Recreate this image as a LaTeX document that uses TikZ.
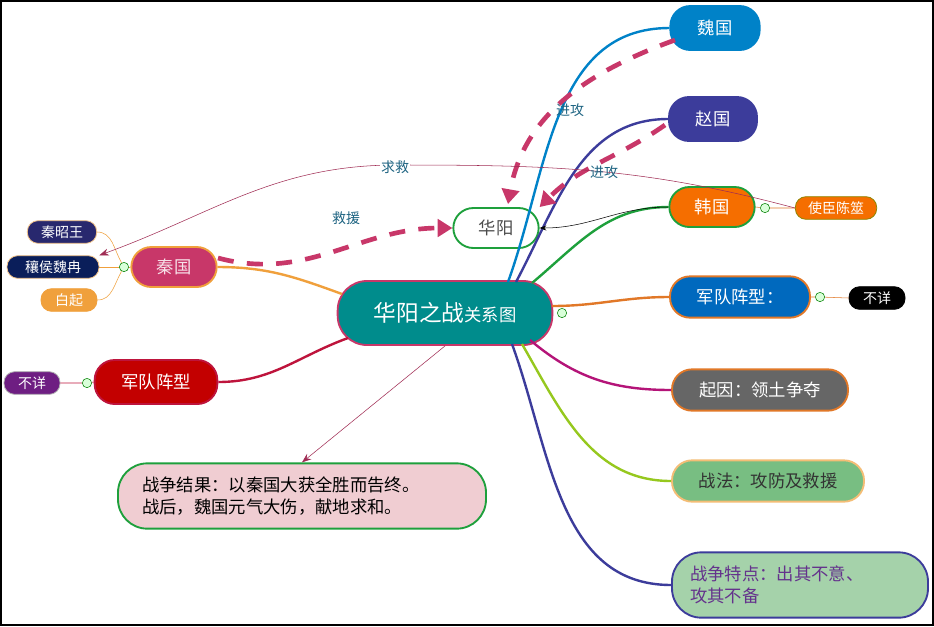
\documentclass[tikz,border=0pt]{standalone}
\usepackage{fontspec}
\setmainfont{Noto Sans CJK SC}
\usetikzlibrary{arrows.meta,positioning}
\definecolor{teal1}{RGB}{0,140,140}
\definecolor{rose}{RGB}{200,55,105}
\definecolor{weiblue}{RGB}{0,130,200}
\definecolor{zhaoblue}{RGB}{60,60,155}
\definecolor{hangreen}{RGB}{30,160,60}
\definecolor{hanorange}{RGB}{245,110,0}
\definecolor{armyblue}{RGB}{0,105,190}
\definecolor{brorange}{RGB}{225,120,40}
\definecolor{magen}{RGB}{180,20,120}
\definecolor{ygreen}{RGB}{150,200,30}
\definecolor{qinorange}{RGB}{240,160,60}
\definecolor{crimson1}{RGB}{190,20,60}
\definecolor{labelc}{RGB}{30,100,130}
\definecolor{nodered}{RGB}{195,0,0}
\tikzset{
  topic/.style={rounded corners=15pt,minimum height=#1,font=\fontsize{13}{16}\selectfont,align=left,line width=1.4pt,inner xsep=6pt,inner ysep=2pt},
  topic/.default=31pt,
  leaf/.style={rounded corners=8pt,minimum height=17pt,inner ysep=1pt,font=\fontsize{10.5}{12}\selectfont,text=white,line width=0.6pt,inner xsep=4pt},
  fold/.style={circle,draw=green!50!black,fill=green!15,inner sep=0pt,minimum size=7pt},
  branch/.style={line width=1.8pt},
  attack/.style={rose,line width=3.5pt,dash pattern=on 12pt off 10pt,-{Triangle[length=11pt,width=13pt]}},
  lbl/.style={text=labelc,font=\fontsize{10.5}{12}\selectfont}
}
\begin{document}
\begin{tikzpicture}[x=0.75pt,y=-0.75pt]
\useasboundingbox (0,0) rectangle (934,626);
\draw[black,line width=1.5pt,fill=white] (1,1) rectangle (933,625);
% main nodes
\node[topic=48pt,fill=teal1,draw=rose,text=white,minimum width=161pt,align=center,rounded corners=22pt] (C) at (445,313) {{\fontsize{17}{20}\selectfont 华阳之战}关系图};
\node[topic=30pt,fill=white,draw=hangreen,text=black!70,minimum width=64pt] (HY) at (496,228) {华阳};
\node[topic=33pt,fill=weiblue,draw=weiblue,text=white,minimum width=67pt] (Wei) at (715,28) {魏国};
\node[topic=33pt,fill=zhaoblue,draw=zhaoblue,text=white,minimum width=66pt] (Zhao) at (713,119) {赵国};
\node[topic=30pt,fill=hanorange,draw=hangreen,text=white,minimum width=64pt] (Han) at (712,207) {韩国};
\node[leaf,fill=hanorange,draw=olive,minimum width=61pt] (Chen) at (836,208) {使臣陈筮};
\node[topic,fill=armyblue,draw=brorange,text=white,minimum width=105pt] (ArmyR) at (740,297) {军队阵型：};
\node[leaf,fill=black,draw=black,minimum width=42pt] (UnkR) at (877,298) {不详};
\node[topic,fill=black!60,draw=brorange,text=white,minimum width=132pt] (Cause) at (760,390) {起因：领土争夺};
\node[topic,fill={rgb,255:red,120;green,190;blue,130},draw=qinorange!70,text=black!80,minimum width=144pt] (Tac) at (768,481) {战法：攻防及救援};
\node[topic=49pt,fill={rgb,255:red,165;green,210;blue,170},draw=zhaoblue,text={rgb,255:red,100;green,50;blue,140},minimum width=192pt,text width=165pt,rounded corners=22pt] (Feat) at (800,585) {战争特点：出其不意、\\攻其不备};
\node[topic=49pt,fill={rgb,255:red,240;green,205;blue,210},draw=hangreen,text=black,minimum width=276pt,text width=240pt,rounded corners=22pt] (Res) at (302,496) {战争结果：以秦国大获全胜而告终。\\战后，魏国元气大伤，献地求和。};
\node[topic=30pt,fill=rose,draw=qinorange,text=white!85!rose,minimum width=64pt] (Qin) at (174,267) {秦国};
\node[leaf,fill={rgb,255:red,40;green,40;blue,110},draw=qinorange!60,minimum width=52pt] (Zhao2) at (62,232) {秦昭王};
\node[leaf,fill={rgb,255:red,10;green,30;blue,90},draw=qinorange!60,minimum width=69pt] (Wei2) at (53,267) {穰侯魏冉};
\node[leaf,fill=qinorange,draw=qinorange,minimum width=42pt] (Bai) at (69,300) {白起};
\node[topic=33pt,fill=nodered,draw=crimson1,text=white,minimum width=92pt] (ArmyL) at (156,382) {军队阵型};
\node[leaf,fill={rgb,255:red,110;green,30;blue,130},draw=black!30,minimum width=42pt] (UnkL) at (32,383) {不详};
% fold marks
\node[fold] (f1) at (562,313) {};
\node[fold] (f2) at (765,208) {};
\node[fold] (f3) at (820,297) {};
\node[fold] (f4) at (124,267) {};
\node[fold] (f5) at (87,383) {};
% branches
\draw[branch,weiblue] (508,282) to[out=70,in=180] (Wei.west);
\draw[branch,zhaoblue] (516,282) to[out=62,in=180] (Zhao.west);
\draw[branch,hangreen] (532,283) to[out=40,in=180] (Han.west);
\draw[branch,brorange] (552,306) to[out=0,in=180] (ArmyR.west);
\draw[branch,magen] (530,340) to[out=-40,in=180] (Cause.west);
\draw[branch,ygreen] (522,344) to[out=-60,in=180] (Tac.west);
\draw[branch,zhaoblue] (512,344) to[out=-70,in=180] (Feat.west);
\draw[branch,qinorange] (342,294) to[out=160,in=0] (Qin.east);
\draw[branch,crimson1] (348,338) to[out=200,in=0] (ArmyL.east);
\draw[brorange] (Chen.west) -- (f2) -- (Han.east);
\draw[brorange] (UnkR.west) -- (f3) -- (ArmyR.east);
\draw[crimson1] (UnkL.east) -- (f5) -- (ArmyL.west);
\draw[qinorange] (Qin.west) -- (f4);
\draw[qinorange] (f4) to[out=120,in=0] (Zhao2.east);
\draw[qinorange] (f4) -- (Wei2.east);
\draw[qinorange] (f4) to[out=-120,in=0] (Bai.east);
% relations
\draw[attack] (218,258) to[out=-15,in=180] (HY.west);
\draw[attack] (675,40) to[out=200,in=80] (508,204);
\draw[attack] (665,125) to[out=215,in=45] (HY.north east);
\draw[-{Stealth[length=5pt]},black] (Han.west) to[out=180,in=0] (HY.east);
\draw[-{Stealth[length=7pt]},rose!80!black] (Chen.west) to[out=165,in=0] (396,165) to[out=180,in=20] (Wei2.north east);
\draw[-{Stealth[length=7pt]},rose!80!black] (C.south) -- (Res.north);
\node[lbl] (l1) at (570,110) {进攻};
\node[lbl] (l2) at (604,172) {进攻};
\node[lbl,fill=white,inner sep=1pt] (l3) at (395,167) {求救};
\node[lbl] (l4) at (346,218) {救援};
\end{tikzpicture}
\end{document}
